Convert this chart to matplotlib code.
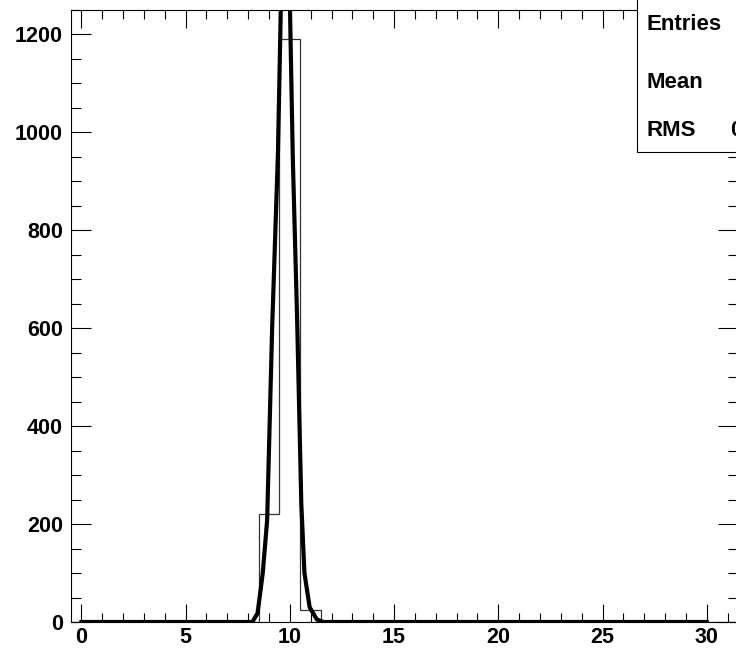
import matplotlib
matplotlib.use('Agg')
import matplotlib.pyplot as plt
from matplotlib.patches import Rectangle
from matplotlib.ticker import MultipleLocator
import numpy as np

# ######################## Data ########################
bin_edges = np.arange(-0.5, 32.0, 1.0)        # 32 bins, centred on integers
counts = [0, 0, 0, 0, 0, 0, 0, 0, 0, 220, 1190, 25, 0, 0, 0, 0,
          0, 0, 0, 0, 0, 0, 0, 0, 0, 0, 0, 0, 0, 0, 0, 0]

# fitted gaussian, drawn as a polyline (vertices)
fit_x = [0.0, 8.2, 8.45, 8.7, 8.91, 9.15, 9.43, 9.79, 10.14, 10.35, 10.55,
         10.7, 10.95, 11.3, 11.6, 30.0]
fit_y = [0, 0, 18, 100, 208, 600, 960, 1740, 950, 616, 240,
         100, 30, 5, 0, 0]

stat_names = ['Entries', 'Mean', 'RMS']
stat_values = ['1435', '9.864', '0.3902']

# ######################## Figure ########################
W, H = 736, 654
fig = plt.figure(figsize=(W / 100, H / 100), dpi=100)
ax = fig.add_axes([71 / W, 32 / H, (738 - 71) / W, (622 - 10) / H])

fam = ['Liberation Sans', 'DejaVu Sans']

ax.stairs(counts, bin_edges, color='#333333', linewidth=0.9)
ax.plot(fit_x, fit_y, color='black', linewidth=3.0, solid_joinstyle='round')

ax.set_xlim(-0.5, 31.5)
ax.set_ylim(0, 1250)

ax.xaxis.set_major_locator(MultipleLocator(5))
ax.xaxis.set_minor_locator(MultipleLocator(1))
ax.yaxis.set_major_locator(MultipleLocator(200))
ax.yaxis.set_minor_locator(MultipleLocator(50))

ax.tick_params(axis='both', which='both', direction='in', top=True, right=True,
               width=0.8, color='black')
ax.tick_params(axis='x', which='major', length=13, pad=3.5)
ax.tick_params(axis='x', which='minor', length=6.5)
ax.tick_params(axis='y', which='major', length=14.4, pad=5.8)
ax.tick_params(axis='y', which='minor', length=7.2)

for lab in ax.get_xticklabels() + ax.get_yticklabels():
    lab.set_family(fam)
    lab.set_fontweight('bold')
    lab.set_fontsize(15.5)

for sp in ax.spines.values():
    sp.set_linewidth(0.8)

# ######################## Stat box (cropped by canvas) ########################
box = Rectangle((637 / W, 1 - 152 / H), 0.3, 0.4, transform=fig.transFigure,
                facecolor='white', edgecolor='black', linewidth=0.8, zorder=5)
fig.add_artist(box)
row_y = [25, 82, 130]
for name, val, yy in zip(stat_names, stat_values, row_y):
    fig.text(647 / W, 1 - yy / H, name, family=fam, fontweight='bold',
             fontsize=16, va='center', ha='left', zorder=6)
    fig.text(798 / W, 1 - yy / H, val, family=fam, fontweight='bold',
             fontsize=16, va='center', ha='right', zorder=6)

fig.savefig('out.png', dpi=100)
